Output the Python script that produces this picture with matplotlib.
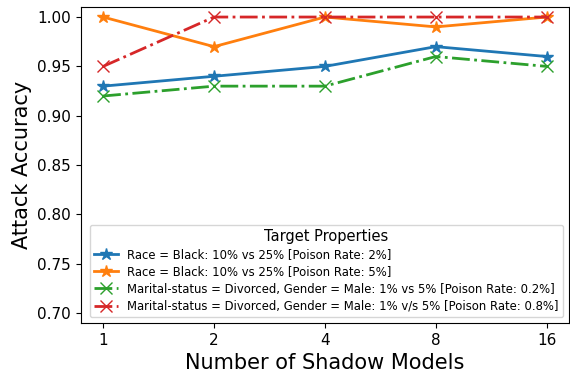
import matplotlib
matplotlib.use("Agg")
import matplotlib.pyplot as plt

shadow_models = ["1", "2", "4", "8", "16"]

race_black_pr2 = [0.93, 0.94, 0.95, 0.97, 0.96]
race_black_pr5 = [1.00, 0.97, 1.00, 0.99, 1.00]
marital_gender_pr02 = [0.92, 0.93, 0.93, 0.96, 0.95]
marital_gender_pr08 = [0.95, 1.00, 1.00, 1.00, 1.00]

labels = [
    "Race = Black: 10% vs 25% [Poison Rate: 2%]",
    "Race = Black: 10% vs 25% [Poison Rate: 5%]",
    "Marital-status = Divorced, Gender = Male: 1% vs 5% [Poison Rate: 0.2%]",
    "Marital-status = Divorced, Gender = Male: 1% v/s 5% [Poison Rate: 0.8%]",
]

fig = plt.figure(figsize=(5.7, 3.77), dpi=100)
ax = fig.add_axes([0.142, 0.143, 0.856, 0.838])

x = range(len(shadow_models))
ax.plot(x, race_black_pr2, color="C0", marker="*", linestyle="-", linewidth=2, markersize=9, label=labels[0])
ax.plot(x, race_black_pr5, color="C1", marker="*", linestyle="-", linewidth=2, markersize=9, label=labels[1])
ax.plot(x, marital_gender_pr02, color="C2", marker="x", linestyle="-.", linewidth=2, markersize=8, label=labels[2])
ax.plot(x, marital_gender_pr08, color="C3", marker="x", linestyle="-.", linewidth=2, markersize=8, label=labels[3])

ax.set_xticks(list(x))
ax.set_xticklabels(shadow_models)
ax.set_ylim(0.69, 1.01)
ax.set_yticks([0.70, 0.75, 0.80, 0.85, 0.90, 0.95, 1.00])
ax.tick_params(labelsize=11)
ax.set_xlabel("Number of Shadow Models", fontsize=15)
ax.set_ylabel("Attack Accuracy", fontsize=15)

ax.legend(title="Target Properties", loc="lower right", fontsize=8.4, title_fontsize=10.5,
          labelspacing=0.35)

fig.savefig("out.png", dpi=100)
